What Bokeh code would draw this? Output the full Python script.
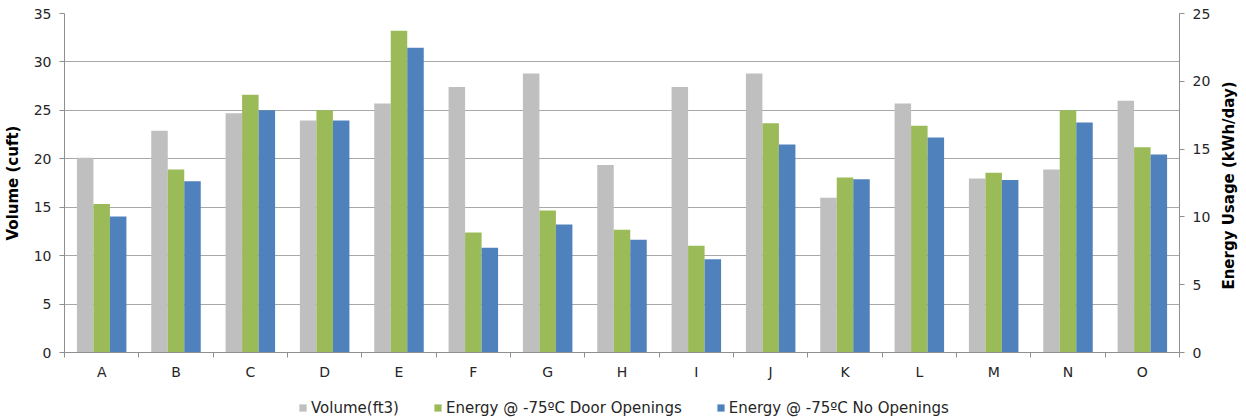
import math
import numpy as np
from bokeh.plotting import figure
from bokeh.layouts import column
from bokeh.models import (Range1d, LinearAxis, FixedTicker, Legend, LegendItem,
                          ColumnDataSource, Label)
from bokeh.embed import file_html
from bokeh.resources import INLINE

categories = ["A", "B", "C", "D", "E", "F", "G", "H", "I", "J", "K", "L", "M", "N", "O"]
volume = [20.1, 22.9, 24.7, 23.95, 25.7, 27.4, 28.8, 19.35, 27.4, 28.8, 15.97, 25.7, 17.96, 18.9, 25.98]
energy_door = [10.96, 13.5, 19.0, 17.87, 23.72, 8.85, 10.47, 9.05, 7.87, 16.91, 12.9, 16.72, 13.25, 17.87, 15.14]
energy_none = [10.03, 12.63, 17.87, 17.1, 22.47, 7.72, 9.44, 8.31, 6.88, 15.34, 12.78, 15.86, 12.73, 16.96, 14.6]
left_ticks = [0, 5, 10, 15, 20, 25, 30, 35]
right_ticks = [0, 5, 10, 15, 20, 25]
series_names = ["Volume(ft3)", "Energy @ -75ºC Door Openings", "Energy @ -75ºC No Openings"]
right_title = "Energy Usage (kWh/day)"
colors = ["#BFBFBF", "#9BBB59", "#4F81BD"]

FONT = "DejaVu Sans"
GRID = "#a8a8a8"
AXIS = "#8f8f8f"
TXT = "#262626"

n = len(categories)
centers = np.arange(n) + 0.5
bw = 0.222

src = ColumnDataSource(dict(
    x_vol=centers - bw, x_door=centers, x_none=centers + bw,
    volume=volume, door=energy_door, none=energy_none,
))

p = figure(width=1246, height=390, output_backend="svg", toolbar_location=None,
           x_range=Range1d(0, n), y_range=Range1d(0, 35),
           min_border_left=63, min_border_right=67, min_border_top=13, min_border_bottom=38,
           y_axis_location=None, x_axis_location=None)
p.extra_y_ranges = {"energy": Range1d(0, 25)}
p.outline_line_color = None
p.background_fill_color = "white"

r1 = p.vbar(x="x_vol", top="volume", width=bw, source=src, fill_color=colors[0], line_color=None)
r2 = p.vbar(x="x_door", top="door", width=bw, source=src, fill_color=colors[1], line_color=None,
            y_range_name="energy")
r3 = p.vbar(x="x_none", top="none", width=bw, source=src, fill_color=colors[2], line_color=None,
            y_range_name="energy")

# x axis
xaxis = LinearAxis(ticker=FixedTicker(ticks=list(centers), minor_ticks=list(range(n + 1))))
xaxis.major_label_overrides = {float(c): cat for c, cat in zip(centers, categories)}
xaxis.major_tick_out = 0
xaxis.major_tick_in = 0
xaxis.minor_tick_out = 5
xaxis.minor_tick_in = 0
xaxis.minor_tick_line_color = AXIS
xaxis.axis_line_color = AXIS
xaxis.major_label_standoff = 6
xaxis.major_label_text_font = FONT
xaxis.major_label_text_font_size = "14px"
xaxis.major_label_text_color = TXT
p.add_layout(xaxis, "below")

# left axis
yl = LinearAxis(ticker=FixedTicker(ticks=left_ticks, minor_ticks=[]))
yl.axis_label = "Volume (cuft)"
yl.axis_label_text_font = FONT
yl.axis_label_text_font_size = "15px"
yl.axis_label_text_font_style = "bold"
yl.axis_label_text_color = "black"
yl.axis_label_standoff = 9
yl.major_tick_out = 5
yl.major_tick_in = 0
yl.major_tick_line_color = AXIS
yl.axis_line_color = AXIS
yl.major_label_standoff = 8
yl.major_label_text_font = FONT
yl.major_label_text_font_size = "14px"
yl.major_label_text_color = TXT
p.add_layout(yl, "left")

# right axis (ticks and labels)
yr = LinearAxis(y_range_name="energy", ticker=FixedTicker(ticks=right_ticks, minor_ticks=[]))
yr.major_tick_out = 5
yr.major_tick_in = 0
yr.major_tick_line_color = AXIS
yr.axis_line_color = AXIS
yr.major_label_standoff = 8
yr.major_label_text_font = FONT
yr.major_label_text_font_size = "14px"
yr.major_label_text_color = TXT
p.add_layout(yr, "right")

# right axis title, reading bottom-to-top, in the right panel
title_r = Label(text=right_title, x=15, y=167, x_units="screen", y_units="screen",
                angle=math.pi / 2, text_align="center", text_baseline="middle",
                text_font=FONT, text_font_size="15px", text_font_style="bold",
                text_color="black")
p.add_layout(title_r, "right")

p.xgrid.visible = False
grid = p.ygrid[0]
grid.ticker = FixedTicker(ticks=left_ticks)
grid.grid_line_color = GRID
grid.grid_line_width = 1

# legend strip
q = figure(width=1246, height=30, output_backend="svg", toolbar_location=None,
           x_range=Range1d(0, 1), y_range=Range1d(0, 1),
           min_border=0, min_border_left=0, min_border_right=0, min_border_top=0, min_border_bottom=0,
           x_axis_location=None, y_axis_location=None)
q.outline_line_color = None
q.grid.visible = False
hidden = ColumnDataSource(dict(x=[-10.0], top=[0.0]))
l1 = q.vbar(x="x", top="top", width=0.1, source=hidden, fill_color=colors[0], line_color=None)
l2 = q.vbar(x="x", top="top", width=0.1, source=hidden, fill_color=colors[1], line_color=None)
l3 = q.vbar(x="x", top="top", width=0.1, source=hidden, fill_color=colors[2], line_color=None)

legend = Legend(items=[LegendItem(label=series_names[0], renderers=[l1]),
                       LegendItem(label=series_names[1], renderers=[l2]),
                       LegendItem(label=series_names[2], renderers=[l3])],
                orientation="horizontal", location=(234, 3))
legend.padding = 0
legend.margin = 0
legend.spacing = 34
legend.glyph_width = 9
legend.glyph_height = 9
legend.label_standoff = 4
legend.label_height = 19
legend.label_text_font = FONT
legend.label_text_font_size = "15px"
legend.label_text_color = TXT
legend.border_line_color = None
legend.background_fill_alpha = 0
q.add_layout(legend, "center")

layout = column(p, q, spacing=0)
open("out.html", "w").write(file_html(layout, INLINE))
